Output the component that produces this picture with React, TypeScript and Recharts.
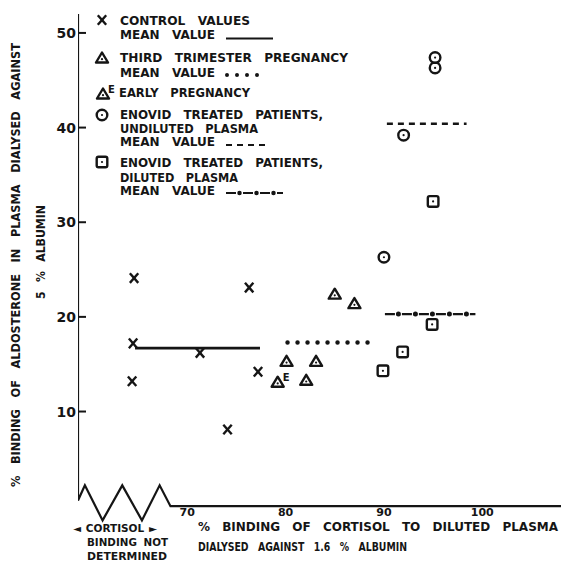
import React from 'react';
import { ReferenceLine, Scatter, ScatterChart, XAxis, YAxis } from 'recharts';

const INK = '#151515';
const FONT = '"DejaVu Sans", Verdana, sans-serif';

// x positions of the three "not determined" controls are only placeholders
// inside the broken part of the axis
const controlX = [64.6, 64.5, 64.4, 71.3, 76.3, 77.2, 74.1];
const controlY = [24.1, 17.2, 13.2, 16.2, 23.1, 14.2, 8.1];
const thirdX = [80.1, 83.1, 82.1, 85.0, 87.0];
const thirdY = [15.3, 15.3, 13.3, 22.4, 21.4];
const earlyX = [79.2];
const earlyY = [13.1];
const undilutedX = [95.2, 95.2, 92.0, 90.0];
const undilutedY = [47.4, 46.3, 39.2, 26.3];
const dilutedX = [95.0, 94.9, 91.9, 89.9];
const dilutedY = [32.2, 19.2, 16.3, 14.3];

// mean value bars: control, third trimester, undiluted, diluted
const meanY = [16.7, 17.3, 40.4, 20.3];
const meanFrom = [64.7, 80.2, 90.3, 90.1];
const meanTo = [77.4, 88.4, 98.4, 99.3];

// axis with the zigzag break
const axisX = [58.9, 58.9, 59.6, 61.4, 63.4, 65.4, 67.2, 68.3, 108];
const axisY = [52, 0.6, 2.2, -1.5, 2.2, -1.5, 2.2, 0, 0];

const xTicks = [70, 80, 90, 100];
const yTicks = [10, 20, 30, 40, 50];

const pts = (xs: number[], ys: number[]) => xs.map((x, i) => ({ x, y: ys[i] }));

function XMark({ cx, cy }: { cx: number; cy: number }) {
  return (
    <g stroke={INK} strokeWidth={2.4}>
      <line x1={cx - 4.2} y1={cy - 4.8} x2={cx + 4.2} y2={cy + 4.8} />
      <line x1={cx + 4.2} y1={cy - 4.8} x2={cx - 4.2} y2={cy + 4.8} />
    </g>
  );
}

function Tri({ cx, cy }: { cx: number; cy: number }) {
  return (
    <g>
      <path
        d={`M${cx},${cy - 5.5} L${cx + 6},${cy + 4.5} L${cx - 6},${cy + 4.5} Z`}
        fill="none"
        stroke={INK}
        strokeWidth={2.4}
        strokeLinejoin="round"
      />
      <circle cx={cx} cy={cy + 1.2} r={1.1} fill={INK} />
    </g>
  );
}

function EarlyTri({ cx, cy }: { cx: number; cy: number }) {
  return (
    <g>
      <Tri cx={cx} cy={cy} />
      <text x={cx + 5} y={cy - 1} fontSize={10} fontWeight="bold" fontFamily={FONT} fill={INK}>
        E
      </text>
    </g>
  );
}

function Circ({ cx, cy }: { cx: number; cy: number }) {
  return (
    <g>
      <circle cx={cx} cy={cy} r={5.3} fill="none" stroke={INK} strokeWidth={2.4} />
      <circle cx={cx} cy={cy} r={1.1} fill={INK} />
    </g>
  );
}

function Sq({ cx, cy }: { cx: number; cy: number }) {
  return (
    <g>
      <rect x={cx - 5.3} y={cy - 5.3} width={10.6} height={10.6} rx={1.8} fill="none" stroke={INK} strokeWidth={2.4} />
      <circle cx={cx} cy={cy} r={1.1} fill={INK} />
    </g>
  );
}

function YTick(props: any) {
  const { x, y, payload } = props;
  return (
    <g>
      <text x={x - 2} y={y + 5} textAnchor="end" fontSize={14} fontWeight="bold" fontFamily={FONT} fill={INK}>
        {payload.value}
      </text>
      <line x1={x} x2={x + 8} y1={y} y2={y} stroke={INK} strokeWidth={2} />
    </g>
  );
}

function XTick(props: any) {
  const { x, y, payload } = props;
  return (
    <text x={x} y={y - 11} textAnchor="middle" fontSize={11} fontWeight="bold" fontFamily={FONT} fill={INK}>
      {payload.value}
    </text>
  );
}

const lineStyles = [
  { strokeWidth: 2.6 },
  { strokeWidth: 4.5, strokeDasharray: '0 10', strokeLinecap: 'round' as const },
  { strokeWidth: 2.5, strokeDasharray: '6 5' },
  { strokeWidth: 2.2, strokeDasharray: '10 7' },
];

function T({ x, y, len, children, size = 12, gap = 8 }: any) {
  return (
    <text
      x={x}
      y={y}
      fontSize={size}
      fontWeight="bold"
      fontFamily={FONT}
      fill={INK}
      textLength={len}
      lengthAdjust="spacingAndGlyphs"
      style={{ wordSpacing: `${gap}px` }}
    >
      {children}
    </text>
  );
}

function Overlay() {
  return (
    <svg width={561} height={567} style={{ position: 'absolute', left: 0, top: 0, pointerEvents: 'none' }}>
      {/* legend */}
      <XMark cx={102} cy={20} />
      <T x={120} y={24.5} len={130}>CONTROL VALUES</T>
      <T x={120} y={39} len={95}>MEAN VALUE</T>
      <line x1={226} x2={273} y1={38.5} y2={38.5} stroke={INK} strokeWidth={2} />
      <Tri cx={102} cy={58} />
      <T x={120} y={62} len={228}>THIRD TRIMESTER PREGNANCY</T>
      <T x={120} y={77} len={95}>MEAN VALUE</T>
      <line x1={227} x2={267} y1={75} y2={75} stroke={INK} strokeWidth={4} strokeDasharray="0 10" strokeLinecap="round" />
      <EarlyTri cx={103} cy={94} />
      <T x={119} y={96.5} len={131}>EARLY PREGNANCY</T>
      <Circ cx={102} cy={115} />
      <T x={120} y={119} len={203}>ENOVID TREATED PATIENTS,</T>
      <T x={120} y={133} len={138}>UNDILUTED PLASMA</T>
      <T x={120} y={146} len={95}>MEAN VALUE</T>
      <line x1={226} x2={265} y1={145} y2={145} stroke={INK} strokeWidth={2.2} strokeDasharray="6 5" />
      <Sq cx={102} cy={162} />
      <T x={120} y={167} len={203}>ENOVID TREATED PATIENTS,</T>
      <T x={120} y={182} len={118}>DILUTED PLASMA</T>
      <T x={120} y={195} len={95}>MEAN VALUE</T>
      <line x1={226} x2={283} y1={193} y2={193} stroke={INK} strokeWidth={2} strokeDasharray="10 7" />
      <line x1={226} x2={283} y1={193} y2={193} stroke={INK} strokeWidth={4.5} strokeDasharray="0 17" strokeDashoffset={-13.5} strokeLinecap="round" />

      {/* y title */}
      <g transform="rotate(-90 15 265)">
        <text x={15 - 222} y={265 + 4.5} fontSize={12} fontWeight="bold" fontFamily={FONT} fill={INK} textLength={444} lengthAdjust="spacingAndGlyphs" style={{ wordSpacing: '8px' }}>
          % BINDING OF ALDOSTERONE IN PLASMA DIALYSED AGAINST
        </text>
      </g>
      <g transform="rotate(-90 40 252)">
        <text x={40 - 47} y={252 + 4.5} fontSize={12} fontWeight="bold" fontFamily={FONT} fill={INK} textLength={94} lengthAdjust="spacingAndGlyphs" style={{ wordSpacing: '6px' }}>
          5 % ALBUMIN
        </text>
      </g>

      {/* x title */}
      <T x={198} y={531} len={360}>% BINDING OF CORTISOL TO DILUTED PLASMA</T>
      <T x={198} y={551} len={209}>DIALYSED AGAINST 1.6 % ALBUMIN</T>
      <T x={73} y={532} len={84} size={10} gap={1}>◄ CORTISOL ►</T>
      <T x={87} y={546} len={81} size={10} gap={3}>BINDING NOT</T>
      <T x={87} y={560} len={80} size={10} gap={0}>DETERMINED</T>
    </svg>
  );
}

export default function App() {
  return (
    <div style={{ position: 'absolute', left: 0, top: 0, width: 561, height: 567, background: '#fff' }}>
      <ScatterChart width={561} height={567} margin={{ top: 14, right: 0, bottom: 0, left: 0 }}>
        <XAxis
          type="number"
          dataKey="x"
          domain={[58.9, 108]}
          allowDataOverflow
          ticks={xTicks}
          height={40}
          axisLine={false}
          tickLine={false}
          tickSize={0}
          tickMargin={0}
          tick={<XTick />}
        />
        <YAxis
          type="number"
          dataKey="y"
          domain={[-2.2, 52]}
          allowDataOverflow
          ticks={yTicks}
          width={78}
          axisLine={false}
          tickLine={false}
          tickSize={0}
          tickMargin={0}
          tick={<YTick />}
        />
        <Scatter
          data={pts(axisX, axisY)}
          line={{ stroke: INK, strokeWidth: 2.2 }}
          shape={() => <g />}
          isAnimationActive={false}
        />
        {meanY.map((y, i) => (
          <ReferenceLine
            key={i}
            segment={[{ x: meanFrom[i], y }, { x: meanTo[i], y }]}
            stroke={INK}
            ifOverflow="visible"
            {...lineStyles[i]}
          />
        ))}
        <ReferenceLine
          segment={[{ x: meanFrom[3], y: meanY[3] }, { x: meanTo[3], y: meanY[3] }]}
          stroke={INK}
          strokeWidth={5}
          strokeDasharray="0 17"
          strokeDashoffset={-13.5}
          strokeLinecap="round"
          ifOverflow="visible"
        />
        <Scatter data={pts(controlX, controlY)} shape={(p: any) => <XMark cx={p.cx} cy={p.cy} />} isAnimationActive={false} />
        <Scatter data={pts(thirdX, thirdY)} shape={(p: any) => <Tri cx={p.cx} cy={p.cy} />} isAnimationActive={false} />
        <Scatter data={pts(earlyX, earlyY)} shape={(p: any) => <EarlyTri cx={p.cx} cy={p.cy} />} isAnimationActive={false} />
        <Scatter data={pts(undilutedX, undilutedY)} shape={(p: any) => <Circ cx={p.cx} cy={p.cy} />} isAnimationActive={false} />
        <Scatter data={pts(dilutedX, dilutedY)} shape={(p: any) => <Sq cx={p.cx} cy={p.cy} />} isAnimationActive={false} />
      </ScatterChart>
      <Overlay />
    </div>
  );
}
